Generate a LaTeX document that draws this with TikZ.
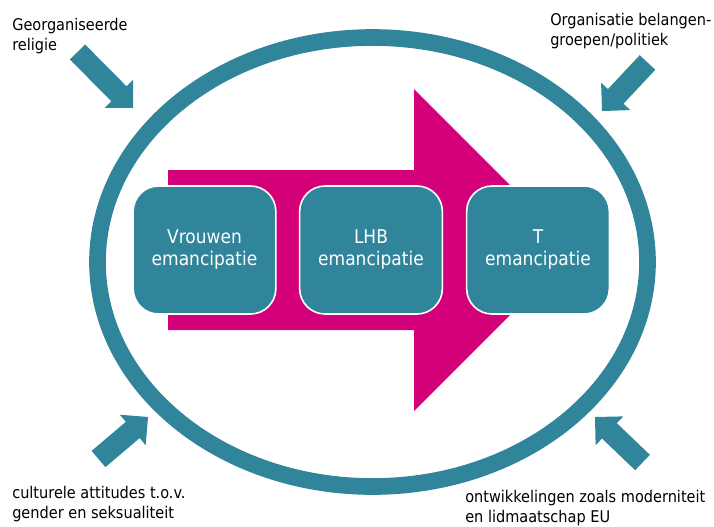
\documentclass[tikz,border=0pt]{standalone}
\usepackage{fontspec}
\setmainfont{DejaVu Sans Condensed}
\usetikzlibrary{calc}

% block arrow from tail #1 to tip #2
\newcommand{\inarrow}[2]{%
  \coordinate (ah) at ($(#2)!15pt!(#1)$);
  \fill[myteal] ($(#1)!8pt!90:(#2)$) -- ($(ah)!8pt!-90:(#1)$) -- ($(ah)!15pt!-90:(#1)$) -- (#2)
    -- ($(ah)!15pt!90:(#1)$) -- ($(ah)!8pt!90:(#1)$) -- ($(#1)!8pt!-90:(#2)$) -- cycle;
}

\begin{document}
\begin{tikzpicture}[x=0.75pt, y=-0.75pt,
    stage/.style={rectangle, rounded corners=19pt, minimum width=107pt, minimum height=96pt,
      inner sep=0pt, fill=myteal, draw=white, line width=1.2pt, text=white, align=center,
      font=\fontsize{14.2}{16.5}\selectfont},
    lbl/.style={anchor=base west, inner sep=0pt, align=left, font=\fontsize{12.1}{15}\selectfont}]
    \definecolor{myteal}{RGB}{49,133,155}
    \definecolor{mymag}{RGB}{212,0,122}

    \useasboundingbox (0,0) rectangle (714,526);

    \draw[myteal, line width=12.5pt] (372.5,262) ellipse [x radius=275, y radius=224.5];

    \fill[mymag] (168,170) -- (414,170) -- (414,89) -- (575,250) -- (414,411) -- (414,330) -- (168,330) -- cycle;

    \node[stage] (vrouwen) at (204.5,250) {Vrouwen\\emancipatie};
    \node[stage] (lhb) at (371,250) {LHB\\emancipatie};
    \node[stage] (trans) at (538,250) {T\\emancipatie};

    % base anchor sits on the last line
    \node[lbl] (religie) at (12,50) {Georganiseerde\\religie};
    \node[lbl] (politiek) at (550,45) {Organisatie belangen-\\groepen/politiek};
    \node[lbl] (cultuur) at (12,518) {culturele attitudes t.o.v.\\gender en seksualiteit};
    \node[lbl] (modern) at (465,522) {ontwikkelingen zoals moderniteit\\en lidmaatschap EU};

    \coordinate (tl) at (77.5,52);   \coordinate (tlend) at (133,108);
    \coordinate (tr) at (647.5,62.5); \coordinate (trend) at (602,111);
    \coordinate (bl) at (98.5,459);  \coordinate (blend) at (148,417);
    \coordinate (br) at (642.5,462.5); \coordinate (brend) at (595,417);
    \inarrow{tl}{tlend}
    \inarrow{tr}{trend}
    \inarrow{bl}{blend}
    \inarrow{br}{brend}
\end{tikzpicture}
\end{document}
